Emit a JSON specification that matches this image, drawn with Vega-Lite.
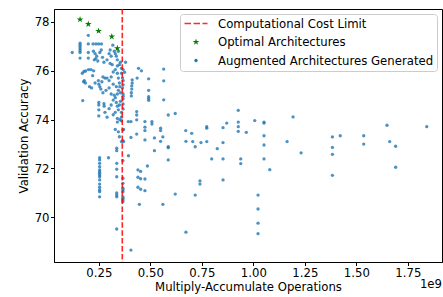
{
  "$schema": "https://vega.github.io/schema/vega-lite/v6.json",
  "width": 388,
  "height": 253,
  "autosize": {"type": "none"},
  "padding": {"left": 54, "top": 9, "right": 1, "bottom": 35},
  "background": "white",
  "title": {"text": "1e9", "orient": "bottom", "anchor": "end", "frame": "group", "font": "DejaVu Sans", "fontSize": 11.7, "fontWeight": "normal", "color": "black", "offset": -14},
  "datasets": {
    "pts": [
      {"mac":0.121e9,"acc":76.75,"s":"Augmented Architectures Generated"},{"mac":0.159e9,"acc":77.13,"s":"Augmented Architectures Generated"},{"mac":0.159e9,"acc":77.05,"s":"Augmented Architectures Generated"},{"mac":0.159e9,"acc":76.97,"s":"Augmented Architectures Generated"},{"mac":0.159e9,"acc":76.90,"s":"Augmented Architectures Generated"},{"mac":0.159e9,"acc":76.82,"s":"Augmented Architectures Generated"},{"mac":0.159e9,"acc":76.75,"s":"Augmented Architectures Generated"},{"mac":0.159e9,"acc":76.52,"s":"Augmented Architectures Generated"},
      {"mac":0.199e9,"acc":77.45,"s":"Augmented Architectures Generated"},{"mac":0.199e9,"acc":77.10,"s":"Augmented Architectures Generated"},{"mac":0.199e9,"acc":76.75,"s":"Augmented Architectures Generated"},{"mac":0.199e9,"acc":76.52,"s":"Augmented Architectures Generated"},
      {"mac":0.222e9,"acc":77.10,"s":"Augmented Architectures Generated"},{"mac":0.236e9,"acc":77.10,"s":"Augmented Architectures Generated"},{"mac":0.249e9,"acc":77.10,"s":"Augmented Architectures Generated"},{"mac":0.263e9,"acc":77.10,"s":"Augmented Architectures Generated"},
      {"mac":0.224e9,"acc":76.80,"s":"Augmented Architectures Generated"},{"mac":0.232e9,"acc":76.70,"s":"Augmented Architectures Generated"},{"mac":0.240e9,"acc":76.60,"s":"Augmented Architectures Generated"},{"mac":0.235e9,"acc":76.50,"s":"Augmented Architectures Generated"},{"mac":0.228e9,"acc":76.45,"s":"Augmented Architectures Generated"},{"mac":0.245e9,"acc":76.40,"s":"Augmented Architectures Generated"},{"mac":0.255e9,"acc":76.75,"s":"Augmented Architectures Generated"},{"mac":0.262e9,"acc":76.85,"s":"Augmented Architectures Generated"},{"mac":0.268e9,"acc":76.55,"s":"Augmented Architectures Generated"},{"mac":0.275e9,"acc":76.35,"s":"Augmented Architectures Generated"},{"mac":0.290e9,"acc":76.45,"s":"Augmented Architectures Generated"},{"mac":0.300e9,"acc":76.70,"s":"Augmented Architectures Generated"},{"mac":0.305e9,"acc":76.85,"s":"Augmented Architectures Generated"},{"mac":0.310e9,"acc":76.60,"s":"Augmented Architectures Generated"},{"mac":0.305e9,"acc":76.30,"s":"Augmented Architectures Generated"},{"mac":0.315e9,"acc":76.25,"s":"Augmented Architectures Generated"},{"mac":0.325e9,"acc":76.80,"s":"Augmented Architectures Generated"},{"mac":0.330e9,"acc":76.70,"s":"Augmented Architectures Generated"},{"mac":0.335e9,"acc":76.60,"s":"Augmented Architectures Generated"},{"mac":0.340e9,"acc":76.45,"s":"Augmented Architectures Generated"},{"mac":0.340e9,"acc":76.20,"s":"Augmented Architectures Generated"},{"mac":0.350e9,"acc":76.25,"s":"Augmented Architectures Generated"},{"mac":0.355e9,"acc":76.35,"s":"Augmented Architectures Generated"},{"mac":0.345e9,"acc":76.80,"s":"Augmented Architectures Generated"},{"mac":0.318e9,"acc":77.05,"s":"Augmented Architectures Generated"},
      {"mac":0.178e9,"acc":75.97,"s":"Augmented Architectures Generated"},{"mac":0.186e9,"acc":75.99,"s":"Augmented Architectures Generated"},{"mac":0.170e9,"acc":75.90,"s":"Augmented Architectures Generated"},{"mac":0.200e9,"acc":76.05,"s":"Augmented Architectures Generated"},{"mac":0.212e9,"acc":76.05,"s":"Augmented Architectures Generated"},{"mac":0.225e9,"acc":76.00,"s":"Augmented Architectures Generated"},{"mac":0.220e9,"acc":75.80,"s":"Augmented Architectures Generated"},{"mac":0.180e9,"acc":75.60,"s":"Augmented Architectures Generated"},{"mac":0.185e9,"acc":75.50,"s":"Augmented Architectures Generated"},{"mac":0.176e9,"acc":75.55,"s":"Augmented Architectures Generated"},{"mac":0.205e9,"acc":75.35,"s":"Augmented Architectures Generated"},{"mac":0.215e9,"acc":75.30,"s":"Augmented Architectures Generated"},{"mac":0.232e9,"acc":75.50,"s":"Augmented Architectures Generated"},{"mac":0.248e9,"acc":75.60,"s":"Augmented Architectures Generated"},{"mac":0.250e9,"acc":75.45,"s":"Augmented Architectures Generated"},{"mac":0.255e9,"acc":75.35,"s":"Augmented Architectures Generated"},{"mac":0.260e9,"acc":75.25,"s":"Augmented Architectures Generated"},{"mac":0.265e9,"acc":75.55,"s":"Augmented Architectures Generated"},{"mac":0.270e9,"acc":75.75,"s":"Augmented Architectures Generated"},{"mac":0.280e9,"acc":75.70,"s":"Augmented Architectures Generated"},{"mac":0.290e9,"acc":75.70,"s":"Augmented Architectures Generated"},{"mac":0.300e9,"acc":75.60,"s":"Augmented Architectures Generated"},{"mac":0.310e9,"acc":75.75,"s":"Augmented Architectures Generated"},{"mac":0.320e9,"acc":75.95,"s":"Augmented Architectures Generated"},{"mac":0.330e9,"acc":76.05,"s":"Augmented Architectures Generated"},{"mac":0.340e9,"acc":75.90,"s":"Augmented Architectures Generated"},{"mac":0.345e9,"acc":75.70,"s":"Augmented Architectures Generated"},{"mac":0.350e9,"acc":75.50,"s":"Augmented Architectures Generated"},{"mac":0.352e9,"acc":75.35,"s":"Augmented Architectures Generated"},{"mac":0.345e9,"acc":75.20,"s":"Augmented Architectures Generated"},{"mac":0.335e9,"acc":75.35,"s":"Augmented Architectures Generated"},{"mac":0.320e9,"acc":75.45,"s":"Augmented Architectures Generated"},{"mac":0.300e9,"acc":75.30,"s":"Augmented Architectures Generated"},{"mac":0.285e9,"acc":75.20,"s":"Augmented Architectures Generated"},{"mac":0.270e9,"acc":75.10,"s":"Augmented Architectures Generated"},{"mac":0.310e9,"acc":75.05,"s":"Augmented Architectures Generated"},{"mac":0.325e9,"acc":75.00,"s":"Augmented Architectures Generated"},{"mac":0.340e9,"acc":75.05,"s":"Augmented Architectures Generated"},{"mac":0.355e9,"acc":75.10,"s":"Augmented Architectures Generated"},{"mac":0.360e9,"acc":75.90,"s":"Augmented Architectures Generated"},{"mac":0.360e9,"acc":76.10,"s":"Augmented Architectures Generated"},{"mac":0.365e9,"acc":75.70,"s":"Augmented Architectures Generated"},{"mac":0.365e9,"acc":75.30,"s":"Augmented Architectures Generated"},
      {"mac":0.172e9,"acc":74.78,"s":"Augmented Architectures Generated"},{"mac":0.250e9,"acc":74.70,"s":"Augmented Architectures Generated"},{"mac":0.250e9,"acc":74.60,"s":"Augmented Architectures Generated"},{"mac":0.250e9,"acc":74.40,"s":"Augmented Architectures Generated"},{"mac":0.250e9,"acc":74.15,"s":"Augmented Architectures Generated"},{"mac":0.275e9,"acc":74.65,"s":"Augmented Architectures Generated"},{"mac":0.276e9,"acc":74.55,"s":"Augmented Architectures Generated"},{"mac":0.280e9,"acc":74.30,"s":"Augmented Architectures Generated"},{"mac":0.290e9,"acc":74.10,"s":"Augmented Architectures Generated"},{"mac":0.300e9,"acc":74.45,"s":"Augmented Architectures Generated"},{"mac":0.310e9,"acc":74.60,"s":"Augmented Architectures Generated"},{"mac":0.320e9,"acc":74.80,"s":"Augmented Architectures Generated"},{"mac":0.330e9,"acc":74.90,"s":"Augmented Architectures Generated"},{"mac":0.335e9,"acc":74.70,"s":"Augmented Architectures Generated"},{"mac":0.340e9,"acc":74.55,"s":"Augmented Architectures Generated"},{"mac":0.345e9,"acc":74.40,"s":"Augmented Architectures Generated"},{"mac":0.350e9,"acc":74.60,"s":"Augmented Architectures Generated"},{"mac":0.355e9,"acc":74.75,"s":"Augmented Architectures Generated"},{"mac":0.330e9,"acc":74.30,"s":"Augmented Architectures Generated"},{"mac":0.320e9,"acc":74.20,"s":"Augmented Architectures Generated"},{"mac":0.340e9,"acc":74.05,"s":"Augmented Architectures Generated"},{"mac":0.352e9,"acc":74.00,"s":"Augmented Architectures Generated"},{"mac":0.360e9,"acc":74.30,"s":"Augmented Architectures Generated"},{"mac":0.360e9,"acc":74.10,"s":"Augmented Architectures Generated"},
      {"mac":0.330e9,"acc":73.60,"s":"Augmented Architectures Generated"},{"mac":0.340e9,"acc":73.90,"s":"Augmented Architectures Generated"},{"mac":0.345e9,"acc":73.50,"s":"Augmented Architectures Generated"},{"mac":0.350e9,"acc":73.30,"s":"Augmented Architectures Generated"},{"mac":0.360e9,"acc":73.95,"s":"Augmented Architectures Generated"},{"mac":0.360e9,"acc":73.10,"s":"Augmented Architectures Generated"},{"mac":0.370e9,"acc":73.10,"s":"Augmented Architectures Generated"},{"mac":0.370e9,"acc":73.60,"s":"Augmented Architectures Generated"},{"mac":0.367e9,"acc":73.58,"s":"Augmented Architectures Generated"},{"mac":0.367e9,"acc":73.14,"s":"Augmented Architectures Generated"},
      {"mac":0.337e9,"acc":72.83,"s":"Augmented Architectures Generated"},{"mac":0.337e9,"acc":72.73,"s":"Augmented Architectures Generated"},{"mac":0.367e9,"acc":72.32,"s":"Augmented Architectures Generated"},{"mac":0.337e9,"acc":72.21,"s":"Augmented Architectures Generated"},{"mac":0.337e9,"acc":71.97,"s":"Augmented Architectures Generated"},{"mac":0.337e9,"acc":71.66,"s":"Augmented Architectures Generated"},{"mac":0.367e9,"acc":71.60,"s":"Augmented Architectures Generated"},{"mac":0.367e9,"acc":71.39,"s":"Augmented Architectures Generated"},{"mac":0.367e9,"acc":71.19,"s":"Augmented Architectures Generated"},{"mac":0.367e9,"acc":71.12,"s":"Augmented Architectures Generated"},{"mac":0.367e9,"acc":71.05,"s":"Augmented Architectures Generated"},{"mac":0.337e9,"acc":71.00,"s":"Augmented Architectures Generated"},{"mac":0.337e9,"acc":70.91,"s":"Augmented Architectures Generated"},{"mac":0.337e9,"acc":70.84,"s":"Augmented Architectures Generated"},{"mac":0.367e9,"acc":70.84,"s":"Augmented Architectures Generated"},{"mac":0.367e9,"acc":70.78,"s":"Augmented Architectures Generated"},{"mac":0.367e9,"acc":70.71,"s":"Augmented Architectures Generated"},{"mac":0.367e9,"acc":70.64,"s":"Augmented Architectures Generated"},{"mac":0.337e9,"acc":69.52,"s":"Augmented Architectures Generated"},{"mac":0.406e9,"acc":68.66,"s":"Augmented Architectures Generated"},
      {"mac":0.254e9,"acc":72.44,"s":"Augmented Architectures Generated"},{"mac":0.254e9,"acc":72.35,"s":"Augmented Architectures Generated"},{"mac":0.254e9,"acc":72.21,"s":"Augmented Architectures Generated"},{"mac":0.254e9,"acc":72.07,"s":"Augmented Architectures Generated"},{"mac":0.254e9,"acc":71.94,"s":"Augmented Architectures Generated"},{"mac":0.254e9,"acc":71.87,"s":"Augmented Architectures Generated"},{"mac":0.254e9,"acc":71.80,"s":"Augmented Architectures Generated"},{"mac":0.254e9,"acc":71.73,"s":"Augmented Architectures Generated"},{"mac":0.254e9,"acc":71.66,"s":"Augmented Architectures Generated"},{"mac":0.254e9,"acc":71.53,"s":"Augmented Architectures Generated"},{"mac":0.254e9,"acc":71.36,"s":"Augmented Architectures Generated"},{"mac":0.254e9,"acc":71.23,"s":"Augmented Architectures Generated"},{"mac":0.254e9,"acc":71.12,"s":"Augmented Architectures Generated"},{"mac":0.254e9,"acc":71.05,"s":"Augmented Architectures Generated"},{"mac":0.254e9,"acc":70.84,"s":"Augmented Architectures Generated"},{"mac":0.297e9,"acc":72.44,"s":"Augmented Architectures Generated"},
      {"mac":0.380e9,"acc":76.35,"s":"Augmented Architectures Generated"},{"mac":0.375e9,"acc":75.94,"s":"Augmented Architectures Generated"},{"mac":0.443e9,"acc":76.10,"s":"Augmented Architectures Generated"},{"mac":0.457e9,"acc":76.00,"s":"Augmented Architectures Generated"},{"mac":0.436e9,"acc":75.70,"s":"Augmented Architectures Generated"},
      {"mac":0.412e9,"acc":75.63,"s":"Augmented Architectures Generated"},{"mac":0.412e9,"acc":75.50,"s":"Augmented Architectures Generated"},{"mac":0.410e9,"acc":75.38,"s":"Augmented Architectures Generated"},{"mac":0.410e9,"acc":75.25,"s":"Augmented Architectures Generated"},{"mac":0.408e9,"acc":75.10,"s":"Augmented Architectures Generated"},{"mac":0.408e9,"acc":74.97,"s":"Augmented Architectures Generated"},
      {"mac":0.368e9,"acc":76.05,"s":"Augmented Architectures Generated"},{"mac":0.368e9,"acc":75.60,"s":"Augmented Architectures Generated"},{"mac":0.368e9,"acc":75.42,"s":"Augmented Architectures Generated"},{"mac":0.368e9,"acc":75.05,"s":"Augmented Architectures Generated"},{"mac":0.368e9,"acc":74.96,"s":"Augmented Architectures Generated"},{"mac":0.368e9,"acc":74.85,"s":"Augmented Architectures Generated"},{"mac":0.368e9,"acc":74.64,"s":"Augmented Architectures Generated"},{"mac":0.368e9,"acc":74.44,"s":"Augmented Architectures Generated"},
      {"mac":0.492e9,"acc":75.67,"s":"Augmented Architectures Generated"},{"mac":0.492e9,"acc":75.20,"s":"Augmented Architectures Generated"},{"mac":0.492e9,"acc":74.94,"s":"Augmented Architectures Generated"},{"mac":0.492e9,"acc":74.86,"s":"Augmented Architectures Generated"},{"mac":0.492e9,"acc":74.79,"s":"Augmented Architectures Generated"},{"mac":0.565e9,"acc":76.07,"s":"Augmented Architectures Generated"},{"mac":0.565e9,"acc":75.59,"s":"Augmented Architectures Generated"},{"mac":0.565e9,"acc":74.81,"s":"Augmented Architectures Generated"},{"mac":0.587e9,"acc":74.19,"s":"Augmented Architectures Generated"},{"mac":0.621e9,"acc":74.25,"s":"Augmented Architectures Generated"},
      {"mac":0.474e9,"acc":73.92,"s":"Augmented Architectures Generated"},{"mac":0.508e9,"acc":73.92,"s":"Augmented Architectures Generated"},{"mac":0.508e9,"acc":73.82,"s":"Augmented Architectures Generated"},{"mac":0.474e9,"acc":73.69,"s":"Augmented Architectures Generated"},{"mac":0.474e9,"acc":73.55,"s":"Augmented Architectures Generated"},{"mac":0.434e9,"acc":74.33,"s":"Augmented Architectures Generated"},{"mac":0.434e9,"acc":74.19,"s":"Augmented Architectures Generated"},{"mac":0.434e9,"acc":73.99,"s":"Augmented Architectures Generated"},{"mac":0.406e9,"acc":73.92,"s":"Augmented Architectures Generated"},{"mac":0.393e9,"acc":73.92,"s":"Augmented Architectures Generated"},
      {"mac":0.550e9,"acc":73.65,"s":"Augmented Architectures Generated"},{"mac":0.550e9,"acc":73.55,"s":"Augmented Architectures Generated"},{"mac":0.474e9,"acc":73.17,"s":"Augmented Architectures Generated"},{"mac":0.520e9,"acc":73.25,"s":"Augmented Architectures Generated"},{"mac":0.561e9,"acc":73.29,"s":"Augmented Architectures Generated"},{"mac":0.550e9,"acc":73.11,"s":"Augmented Architectures Generated"},{"mac":0.520e9,"acc":72.73,"s":"Augmented Architectures Generated"},{"mac":0.587e9,"acc":72.89,"s":"Augmented Architectures Generated"},{"mac":0.587e9,"acc":72.85,"s":"Augmented Architectures Generated"},{"mac":0.587e9,"acc":72.35,"s":"Augmented Architectures Generated"},{"mac":0.486e9,"acc":72.10,"s":"Augmented Architectures Generated"},
      {"mac":0.406e9,"acc":73.27,"s":"Augmented Architectures Generated"},{"mac":0.434e9,"acc":73.41,"s":"Augmented Architectures Generated"},{"mac":0.394e9,"acc":72.52,"s":"Augmented Architectures Generated"},
      {"mac":0.440e9,"acc":71.94,"s":"Augmented Architectures Generated"},{"mac":0.453e9,"acc":71.88,"s":"Augmented Architectures Generated"},{"mac":0.440e9,"acc":71.64,"s":"Augmented Architectures Generated"},{"mac":0.453e9,"acc":71.58,"s":"Augmented Architectures Generated"},{"mac":0.474e9,"acc":71.57,"s":"Augmented Architectures Generated"},{"mac":0.440e9,"acc":71.23,"s":"Augmented Architectures Generated"},{"mac":0.453e9,"acc":71.15,"s":"Augmented Architectures Generated"},{"mac":0.474e9,"acc":71.09,"s":"Augmented Architectures Generated"},{"mac":0.447e9,"acc":70.53,"s":"Augmented Architectures Generated"},{"mac":0.561e9,"acc":70.53,"s":"Augmented Architectures Generated"},
      {"mac":0.621e9,"acc":70.95,"s":"Augmented Architectures Generated"},{"mac":0.673e9,"acc":69.39,"s":"Augmented Architectures Generated"},{"mac":0.718e9,"acc":70.91,"s":"Augmented Architectures Generated"},{"mac":0.741e9,"acc":71.49,"s":"Augmented Architectures Generated"},{"mac":0.741e9,"acc":71.36,"s":"Augmented Architectures Generated"},{"mac":0.853e9,"acc":71.53,"s":"Augmented Architectures Generated"},{"mac":0.939e9,"acc":72.20,"s":"Augmented Architectures Generated"},{"mac":0.939e9,"acc":72.39,"s":"Augmented Architectures Generated"},{"mac":1.080e9,"acc":71.95,"s":"Augmented Architectures Generated"},{"mac":1.023e9,"acc":70.91,"s":"Augmented Architectures Generated"},{"mac":1.023e9,"acc":70.34,"s":"Augmented Architectures Generated"},{"mac":1.023e9,"acc":69.76,"s":"Augmented Architectures Generated"},{"mac":1.023e9,"acc":69.33,"s":"Augmented Architectures Generated"},
      {"mac":0.672e9,"acc":73.55,"s":"Augmented Architectures Generated"},{"mac":0.701e9,"acc":73.44,"s":"Augmented Architectures Generated"},{"mac":0.673e9,"acc":73.11,"s":"Augmented Architectures Generated"},{"mac":0.706e9,"acc":73.10,"s":"Augmented Architectures Generated"},{"mac":0.718e9,"acc":72.89,"s":"Augmented Architectures Generated"},{"mac":0.746e9,"acc":73.06,"s":"Augmented Architectures Generated"},{"mac":0.774e9,"acc":73.10,"s":"Augmented Architectures Generated"},{"mac":0.774e9,"acc":73.71,"s":"Augmented Architectures Generated"},{"mac":0.774e9,"acc":73.65,"s":"Augmented Architectures Generated"},{"mac":0.798e9,"acc":72.39,"s":"Augmented Architectures Generated"},{"mac":0.825e9,"acc":72.81,"s":"Augmented Architectures Generated"},{"mac":0.853e9,"acc":73.67,"s":"Augmented Architectures Generated"},{"mac":0.853e9,"acc":73.06,"s":"Augmented Architectures Generated"},{"mac":0.853e9,"acc":72.39,"s":"Augmented Architectures Generated"},{"mac":0.871e9,"acc":73.86,"s":"Augmented Architectures Generated"},
      {"mac":0.927e9,"acc":74.38,"s":"Augmented Architectures Generated"},{"mac":0.927e9,"acc":73.90,"s":"Augmented Architectures Generated"},{"mac":0.927e9,"acc":73.71,"s":"Augmented Architectures Generated"},{"mac":0.927e9,"acc":73.52,"s":"Augmented Architectures Generated"},{"mac":0.966e9,"acc":73.48,"s":"Augmented Architectures Generated"},{"mac":1.007e9,"acc":73.96,"s":"Augmented Architectures Generated"},{"mac":1.052e9,"acc":73.90,"s":"Augmented Architectures Generated"},{"mac":1.052e9,"acc":73.86,"s":"Augmented Architectures Generated"},{"mac":1.052e9,"acc":73.34,"s":"Augmented Architectures Generated"},{"mac":1.052e9,"acc":72.96,"s":"Augmented Architectures Generated"},{"mac":1.052e9,"acc":72.39,"s":"Augmented Architectures Generated"},
      {"mac":1.164e9,"acc":73.10,"s":"Augmented Architectures Generated"},{"mac":1.193e9,"acc":74.11,"s":"Augmented Architectures Generated"},{"mac":1.232e9,"acc":72.64,"s":"Augmented Architectures Generated"},{"mac":1.384e9,"acc":73.29,"s":"Augmented Architectures Generated"},{"mac":1.384e9,"acc":72.86,"s":"Augmented Architectures Generated"},{"mac":1.384e9,"acc":72.58,"s":"Augmented Architectures Generated"},{"mac":1.384e9,"acc":71.72,"s":"Augmented Architectures Generated"},{"mac":1.422e9,"acc":73.34,"s":"Augmented Architectures Generated"},{"mac":1.536e9,"acc":73.34,"s":"Augmented Architectures Generated"},{"mac":1.536e9,"acc":73.00,"s":"Augmented Architectures Generated"},{"mac":1.649e9,"acc":73.77,"s":"Augmented Architectures Generated"},{"mac":1.662e9,"acc":73.10,"s":"Augmented Architectures Generated"},{"mac":1.691e9,"acc":72.91,"s":"Augmented Architectures Generated"},{"mac":1.691e9,"acc":72.05,"s":"Augmented Architectures Generated"},{"mac":1.842e9,"acc":73.71,"s":"Augmented Architectures Generated"},
      {"mac":0.159e9,"acc":78.10,"s":"Optimal Architectures"},{"mac":0.199e9,"acc":77.91,"s":"Optimal Architectures"},{"mac":0.249e9,"acc":77.63,"s":"Optimal Architectures"},{"mac":0.313e9,"acc":77.40,"s":"Optimal Architectures"},{"mac":0.340e9,"acc":76.92,"s":"Optimal Architectures"}
    ],
    "limit": [{"mac":0.364e9}]
  },
  "layer": [
    {
      "data": {"name": "pts"},
      "mark": {"type": "point", "filled": true},
      "encoding": {
        "x": {"field": "mac", "type": "quantitative", "scale": {"domain": [0.0325e9, 1.916e9], "nice": false, "zero": false},
          "axis": {"values": [0.25e9, 0.5e9, 0.75e9, 1.0e9, 1.25e9, 1.5e9, 1.75e9], "labelExpr": "format(datum.value/1e9, '.2f')", "title": "Multiply-Accumulate Operations", "titlePadding": 3}},
        "y": {"field": "acc", "type": "quantitative", "scale": {"domain": [68.17, 78.53], "nice": false, "zero": false},
          "axis": {"values": [70, 72, 74, 76, 78], "title": "Validation Accuracy", "titlePadding": 5}},
        "color": {"field": "s", "type": "nominal", "legend": {"title": null},
          "scale": {"domain": ["Computational Cost Limit", "Optimal Architectures", "Augmented Architectures Generated"], "range": ["#ff2a2a", "#008000", "#1f77b4"]}},
        "shape": {"field": "s", "type": "nominal", "legend": {"title": null},
          "scale": {"domain": ["Computational Cost Limit", "Optimal Architectures", "Augmented Architectures Generated"], "range": ["M-1,-0.07H-0.435V0.07H-1Z M-0.217,-0.07H0.348V0.07H-0.217Z M0.565,-0.07H1V0.07H0.565Z", "M0,-1L0.223,-0.307L0.951,-0.309L0.361,0.117L0.588,0.809L0,0.38L-0.588,0.809L-0.361,0.117L-0.951,-0.309L-0.223,-0.307Z", "circle"]}},
        "size": {"field": "s", "type": "nominal", "legend": {"title": null},
          "scale": {"type": "ordinal", "domain": ["Computational Cost Limit", "Optimal Architectures", "Augmented Architectures Generated"], "range": [529, 50, 11]}},
        "opacity": {"condition": {"test": "datum.s === 'Optimal Architectures'", "value": 1}, "value": 0.8},
        "order": {"field": "acc", "sort": "ascending"}
      }
    },
    {
      "data": {"name": "limit"},
      "mark": {"type": "rule", "color": "#ff0000", "opacity": 0.85, "strokeWidth": 1.6, "strokeDash": [5.5, 2.4]},
      "encoding": {"x": {"field": "mac", "type": "quantitative"}}
    }
  ],
  "config": {
    "view": {"stroke": "black", "strokeWidth": 1},
    "axis": {"grid": false, "domainColor": "black", "tickColor": "black", "labelColor": "black", "titleColor": "black", "labelFont": "DejaVu Sans", "titleFont": "DejaVu Sans", "labelFontSize": 11.7, "titleFontSize": 11.7, "titleFontWeight": "normal", "tickSize": 3.5, "labelPadding": 1.5, "domainWidth": 1, "tickWidth": 1},
    "legend": {"orient": "top-right", "offset": 5, "padding": 3.5, "clipHeight": 12, "fillColor": "white", "strokeColor": "#cccccc", "cornerRadius": 3, "labelFont": "DejaVu Sans", "labelFontSize": 11.7, "labelColor": "black", "labelOffset": 9.5, "labelLimit": 400, "rowPadding": 5.5}
  }
}
